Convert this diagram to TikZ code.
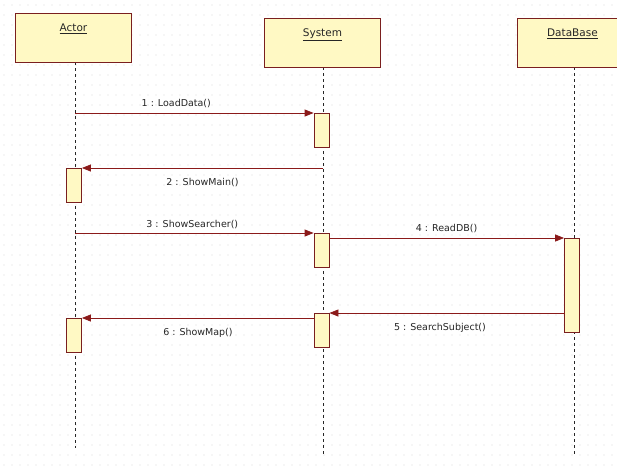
\documentclass[tikz,border=0pt]{standalone}
\usepackage{fontspec}
\setmainfont{DejaVu Sans}
\usetikzlibrary{arrows.meta}
\definecolor{boxfill}{HTML}{FFF9C4}
\definecolor{boxline}{HTML}{7A1F1F}
\definecolor{msgline}{HTML}{8B1A1A}
\definecolor{griddot}{HTML}{DADADA}
\tikzset{
  head/.style={draw=boxline, fill=boxfill, line width=0.9pt, minimum width=116pt,
    minimum height=49pt, anchor=north west, inner sep=0pt},
  headlabel/.style={anchor=north, font=\fontsize{10.5}{12}\selectfont, text=black!85},
  act/.style={draw=boxline, fill=boxfill, line width=0.8pt, minimum width=15pt,
    minimum height=34pt, anchor=north, inner sep=0pt},
  life/.style={black!85, line width=0.9pt, dash pattern=on 3pt off 3pt},
  msg/.style={msgline, line width=0.8pt, -{Triangle[length=9pt,width=7pt]}},
  lbl/.style={font=\fontsize{9.5}{11}\selectfont, text=black!85}
}
\begin{document}
\begin{tikzpicture}[x=1pt,y=-1pt]
\useasboundingbox (0,0) rectangle (617,474);
\fill[white] (0,0) rectangle (617,474);
% faint dot grid of the drawing canvas
\foreach \gx in {4,12,...,616}{
  \foreach \gy in {5,15,...,474}{
    \fill[griddot] (\gx,\gy) circle (0.7pt);
  }
}
% lifelines
\coordinate (actorTop) at (75,62);
\coordinate (actorEnd) at (75,448);
\coordinate (sysTop) at (323,67);
\coordinate (sysEnd) at (323,455);
\coordinate (dbTop) at (574,67);
\coordinate (dbEnd) at (574,455);
\draw[life] (actorTop) -- (actorEnd);
\draw[life] (sysTop) -- (sysEnd);
\draw[life] (dbTop) -- (dbEnd);
% object heads
\node[head] (actor) at (15,13) {};
\node[headlabel] at ([yshift=-7pt]actor.north) {\underline{Actor}};
\node[head] (system) at (264,18) {};
\node[headlabel] at ([yshift=-7pt]system.north) {\underline{System}};
\node[head] (db) at (517,18) {};
\node[headlabel] at ([yshift=-7pt,xshift=-3pt]db.north) {\underline{DataBase}};
% activation bars
\node[act] (a1) at (321.5,113) {};
\node[act] (a2) at (74,168) {};
\node[act] (a3) at (321.5,233) {};
\node[act, minimum height=94pt] (a4) at (572,238) {};
\node[act] (a5) at (321.5,313) {};
\node[act] (a6) at (74,318) {};
% message anchors on the lifelines and bars
\coordinate (m1) at (75,113);
\coordinate (m2) at (323,168);
\coordinate (m3) at (75,233);
\coordinate (m4) at (329,238);
\coordinate (m5) at (564.5,313);
\coordinate (m6) at (314,318);
% messages
\draw[msg] (m1) -- (a1.north west) node[lbl, midway, above=2pt, xshift=-18pt] {1 : LoadData()};
\draw[msg] (m2) -- (a2.north east) node[lbl, midway, below=7pt] {2 : ShowMain()};
\draw[msg] (m3) -- (a3.north west) node[lbl, midway, above=1pt, xshift=-2pt] {3 : ShowSearcher()};
\draw[msg] (m4) -- (a4.north west) node[lbl, midway, above=2pt] {4 : ReadDB()};
\draw[msg] (m5) -- (a5.north east) node[lbl, midway, below=7pt, xshift=-7pt] {5 : SearchSubject()};
\draw[msg] (m6) -- (a6.north east) node[lbl, midway, below=7pt] {6 : ShowMap()};
\end{tikzpicture}
\end{document}
